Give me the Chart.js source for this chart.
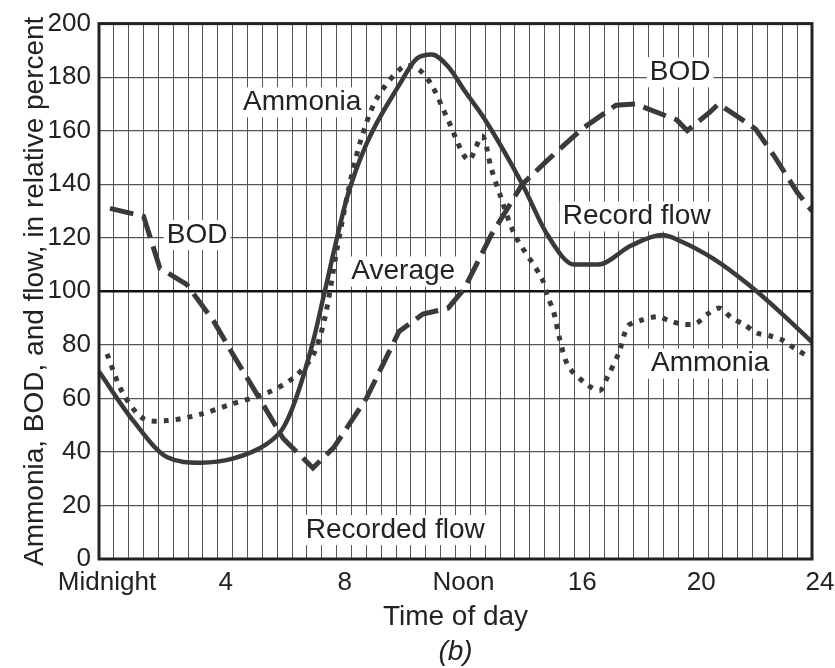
<!DOCTYPE html>
<html lang="en">
<head>
    <meta charset="UTF-8"/>
    <script src="https://cdn.jsdelivr.net/npm/chart.js@4.4.1/dist/chart.umd.min.js"></script>
    <title>Ammonia, BOD and flow</title>
    <style>
        body { margin: 0; background: #fff; }
    </style>
</head>
<body>
<canvas id="flowChart" width="835" height="668"></canvas>
<script>
    // recorded flow (solid)
    const flowHours = [0, 1.15, 2.3, 3.4, 4.5, 5.65, 6.2, 6.6, 7.2, 7.6, 8.35, 9.0, 10.1, 10.7, 11.2, 11.75, 12.3, 13.0, 14.25, 15.1, 16.0, 16.8, 17.9, 18.95, 19.6, 20.7, 21.85, 23.0, 24];
    const flowValues = [70, 51.7, 38, 36, 37.5, 43, 49, 59, 81, 100, 135, 155, 177, 187, 188.5, 184, 175, 164, 140, 121, 110, 110, 117, 121, 118.6, 112, 102.6, 91.5, 81];

    // ammonia (dotted)
    const ammoniaHours = [0.27, 0.8, 1.5, 2.3, 3.4, 4.5, 5.65, 6.55, 7.2, 7.6, 8.0, 8.4, 8.8, 9.35, 10.25, 10.75, 11.2, 11.75, 12.43, 12.9, 13.2, 13.5, 14.0, 14.9, 15.1, 15.3, 15.5, 15.8, 16.4, 16.87, 17.1, 17.5, 17.8, 18.2, 18.8, 19.2, 19.66, 20.1, 20.47, 20.9, 21.3, 21.7, 22.15, 22.6, 23.0, 23.4, 23.85];
    const ammoniaValues = [76.6, 62, 52.4, 51.7, 54, 58, 62, 67.7, 76, 90, 115, 138, 156, 172, 184, 183, 177, 164, 149, 158, 146, 136, 121, 105, 98, 92.5, 82.5, 72, 65.4, 63, 67.7, 77, 87, 89, 90.5, 89, 87.7, 88, 91.4, 93.7, 90, 87.7, 84.4, 83.3, 81.8, 78.8, 75.8];

    // BOD (dashed)
    const bodHours = [0.37, 1.5, 2.05, 2.95, 3.85, 4.5, 5.4, 6.2, 7.2, 7.9, 9.0, 10.1, 10.9, 11.75, 12.3, 13.2, 14.25, 15.1, 16.25, 17.4, 18.05, 19.45, 19.8, 20.57, 20.85, 21.8, 22.1, 22.7, 23.5, 24];
    const bodValues = [131, 128, 108.6, 102.6, 89, 76.6, 60, 45, 34, 41.6, 60, 85, 91.5, 93.7, 101, 121, 140, 149, 160.6, 169.5, 170, 164, 160, 167, 170, 163, 160.6, 151, 137, 130];

    // axis labels
    const xTickHours = [0, 4, 8, 12, 16, 20, 24];
    const xTickLabels = ['Midnight', '4', '8', 'Noon', '16', '20', '24'];

    // curve labels on the plot
    const noteTexts = ['Ammonia', 'BOD', 'Average', 'BOD', 'Record flow', 'Ammonia', 'Recorded flow'];
    const noteHours = [6.84, 3.3, 10.24, 19.56, 18.1, 20.57, 9.97];
    const noteValues = [170.6, 121, 107.4, 181.8, 128, 73, 10.8];

    const FONT = '"Liberation Sans", Arial, Helvetica, sans-serif';
    const INK = '#222';
    const LINE = '#3a3a3a';

    function points(xs, ys) {
        return xs.map((x, i) => ({x: x, y: ys[i]}));
    }

    // labels with white box, border round the plot, (b)
    const paperPlugin = {
        id: 'paper',
        beforeDatasetsDraw(chart) {
            const ctx = chart.ctx;
            const sx = chart.scales.x, sy = chart.scales.y;
            ctx.save();
            ctx.font = '28px ' + FONT;
            ctx.textAlign = 'center';
            ctx.textBaseline = 'middle';
            noteTexts.forEach((t, i) => {
                const px = sx.getPixelForValue(noteHours[i]);
                const py = sy.getPixelForValue(noteValues[i]);
                const w = ctx.measureText(t).width;
                ctx.fillStyle = '#fff';
                ctx.fillRect(px - w / 2 - 3, py - 15, w + 6, 30);
                ctx.fillStyle = INK;
                ctx.fillText(t, px, py);
            });
            ctx.restore();
        },
        afterDraw(chart) {
            const ctx = chart.ctx;
            const a = chart.chartArea;
            ctx.save();
            ctx.strokeStyle = INK;
            ctx.lineWidth = 3;
            ctx.strokeRect(a.left, a.top, a.right - a.left, a.bottom - a.top);
            ctx.font = 'italic 28px ' + FONT;
            ctx.fillStyle = INK;
            ctx.textAlign = 'center';
            ctx.textBaseline = 'middle';
            ctx.fillText('(b)', (a.left + a.right) / 2, 652);
            ctx.restore();
        }
    };

    const ctx = document.getElementById('flowChart').getContext('2d');
    const flowChart = new Chart(ctx, {
        type: 'line',
        data: {
            datasets: [{
                label: 'Recorded flow',
                data: points(flowHours, flowValues),
                borderColor: LINE,
                borderWidth: 4.5,
                cubicInterpolationMode: 'monotone',
                pointRadius: 0
            }, {
                label: 'Ammonia',
                data: points(ammoniaHours, ammoniaValues),
                borderColor: LINE,
                borderWidth: 5,
                borderDash: [5, 7],
                tension: 0.3,
                pointRadius: 0
            }, {
                label: 'BOD',
                data: points(bodHours, bodValues),
                borderColor: LINE,
                borderWidth: 5,
                borderDash: [24, 9],
                tension: 0,
                pointRadius: 0
            }]
        },
        options: {
            responsive: false,
            animation: false,
            devicePixelRatio: 1,
            layout: {
                padding: {left: 18, top: 21, right: 23, bottom: 34}
            },
            plugins: {
                legend: {display: false},
                tooltip: {enabled: false}
            },
            scales: {
                x: {
                    type: 'linear',
                    min: 0,
                    max: 24,
                    afterFit: (s) => { s.height = 75; },
                    border: {display: false},
                    grid: {color: '#555', lineWidth: 1, drawTicks: false},
                    ticks: {
                        stepSize: 0.5,
                        autoSkip: false,
                        maxRotation: 0,
                        padding: 8,
                        labelOffset: 8,
                        color: INK,
                        font: {family: FONT, size: 26},
                        callback: (v) => {
                            const k = xTickHours.indexOf(v);
                            return k >= 0 ? xTickLabels[k] : '';
                        }
                    },
                    title: {
                        display: true,
                        text: 'Time of day',
                        color: INK,
                        padding: 0,
                        font: {family: FONT, size: 28}
                    }
                },
                y: {
                    min: 0,
                    max: 200,
                    afterFit: (s) => { s.width = 81; },
                    border: {display: false},
                    grid: {
                        color: (c) => c.tick && c.tick.value === 100 ? '#111' : '#555',
                        lineWidth: (c) => c.tick && c.tick.value === 100 ? 2.5 : 1.2,
                        drawTicks: false
                    },
                    ticks: {
                        stepSize: 20,
                        padding: 8,
                        color: INK,
                        font: {family: FONT, size: 26}
                    },
                    title: {
                        display: true,
                        text: 'Ammonia, BOD, and flow, in relative percent',
                        color: INK,
                        padding: 0,
                        font: {family: FONT, size: 28}
                    }
                }
            }
        },
        plugins: [paperPlugin]
    });
</script>
</body>
</html>
